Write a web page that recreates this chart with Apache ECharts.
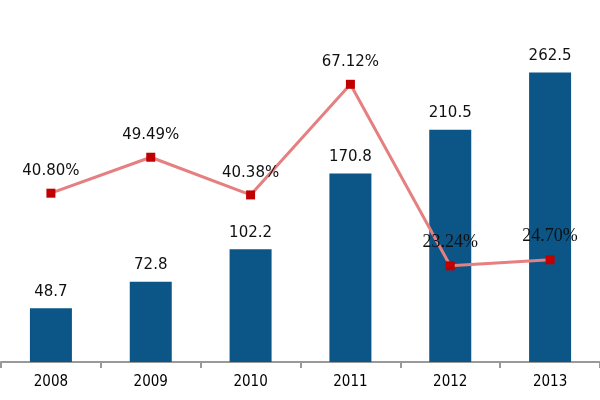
<!DOCTYPE html>
<html><head><meta charset="utf-8">
<script src="https://cdn.jsdelivr.net/npm/echarts@6/dist/echarts.min.js"></script>
<style>html,body{margin:0;padding:0;background:#fff}#c{width:600px;height:400px}</style>
</head><body><div id="c"></div>
<script>
var years = ['2008','2009','2010','2011','2012','2013'];
var revenue = [48.7, 72.8, 102.2, 170.8, 210.5, 262.5];
var growth = [40.80, 49.49, 40.38, 67.12, 23.24, 24.70];

var pctSerif = [4, 5];
var SANS = 'DejaVu Sans, sans-serif';
var SERIF = 'Liberation Serif, serif';
var chart = echarts.init(document.getElementById('c'));
chart.setOption({
  animation: false,
  grid: {left: 1, right: -2, top: 31, bottom: 38},
  xAxis: {
    type: 'category', data: years, boundaryGap: true,
    axisLine: {lineStyle: {color: '#999', width: 2}},
    axisTick: {show: true, length: 6, lineStyle: {color: '#999', width: 2}},
    axisLabel: {color: '#000', fontSize: 15, fontFamily: 'DejaVu Sans Condensed, DejaVu Sans', margin: 13}
  },
  yAxis: [
    {type: 'value', min: 0, max: 300, show: false, splitLine: {show: false}},
    {type: 'value', min: 0, max: 80, show: false, splitLine: {show: false}}
  ],
  series: [
    {
      type: 'bar', yAxisIndex: 0, barWidth: 42, data: revenue,
      itemStyle: {color: '#0b5587'},
      label: {show: true, position: 'top', distance: 9, color: '#111',
        fontFamily: SANS, fontSize: 15,
        formatter: function (p) { return p.value.toFixed(1); }}
    },
    {
      type: 'line', yAxisIndex: 1, z: 5,
      data: growth.map(function (v, i) {
        var serif = pctSerif.indexOf(i) >= 0;
        return {value: v, label: {fontFamily: serif ? SERIF : SANS,
          fontSize: serif ? 18 : 15}};
      }),
      symbol: 'rect', symbolSize: 9,
      lineStyle: {color: '#e57f80', width: 3},
      itemStyle: {color: '#c00000'},
      label: {show: true, position: 'top', distance: 10, color: '#111',
        formatter: function (p) { return p.value.toFixed(2) + '%'; }}
    }
  ]
});
</script></body></html>
